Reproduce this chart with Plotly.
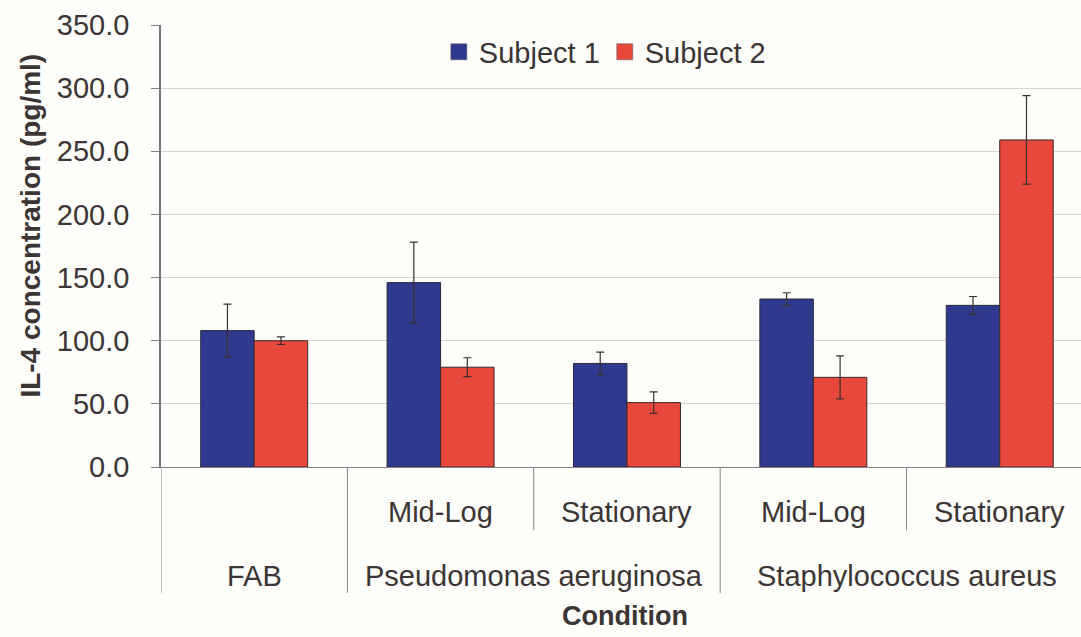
import plotly.graph_objects as go

# ---- data ----
groups = ["FAB", "Pseudomonas aeruginosa", "Pseudomonas aeruginosa",
          "Staphylococcus aureus", "Staphylococcus aureus"]
phases = ["", "Mid-Log", "Stationary", "Mid-Log", "Stationary"]
subject1 = [108.0, 146.0, 82.0, 133.0, 128.0]
subject1_err = [21.0, 32.0, 9.0, 5.0, 7.0]
subject2 = [100.0, 79.0, 51.0, 71.0, 259.0]
subject2_err = [3.0, 7.5, 8.5, 17.0, 35.0]
y_ticks = [0, 50, 100, 150, 200, 250, 300, 350]

BLUE = "#2f3a8e"
RED = "#e8473b"
TXT = "#3b3535"
FONT = "Liberation Sans, Arial, sans-serif"

x = list(range(len(phases)))

fig = go.Figure()
fig.add_trace(go.Bar(
    x=x, y=subject1, name="Subject 1", showlegend=False,
    marker=dict(color=BLUE, line=dict(color="#2a2a3a", width=1)),
    error_y=dict(type="data", array=subject1_err, color="#3a3030", thickness=1.2, width=4),
))
fig.add_trace(go.Bar(
    x=x, y=subject2, name="Subject 2", showlegend=False,
    marker=dict(color=RED, line=dict(color="#3a2a2a", width=1)),
    error_y=dict(type="data", array=subject2_err, color="#3a3030", thickness=1.2, width=4),
))
# legend entries with larger square symbols
for nm, col in [("Subject 1", BLUE), ("Subject 2", RED)]:
    fig.add_trace(go.Scatter(
        x=[None], y=[None], mode="markers", name=nm,
        marker=dict(symbol="square", size=18, color=col, line=dict(color="#555", width=0.5)),
    ))

# ---- category labels and dividers below the axis ----
Y_ROW1 = -0.102
Y_ROW2 = -0.246
Y_LONG = -0.285
Y_SHORT = -0.143
div_style = dict(color="#8a8088", width=1)

annotations = []
shapes = []
# sub labels
for i, p in enumerate(phases):
    if p:
        annotations.append(dict(x=i, y=Y_ROW1, xref="x", yref="paper", text=p,
                                showarrow=False, yanchor="middle",
                                font=dict(family=FONT, size=29, color=TXT)))
# group labels
seen = []
for g in groups:
    if g not in seen:
        seen.append(g)
for g in seen:
    idx = [i for i, gg in enumerate(groups) if gg == g]
    annotations.append(dict(x=sum(idx) / len(idx), y=Y_ROW2, xref="x", yref="paper", text=g,
                            showarrow=False, yanchor="middle",
                            font=dict(family=FONT, size=29, color=TXT)))
# dividers
shapes.append(dict(type="line", xref="x", yref="paper", x0=-0.5, x1=-0.5, y0=0, y1=Y_LONG, line=div_style))
for i in range(1, len(groups)):
    bx = i - 0.5
    ylow = Y_LONG if groups[i] != groups[i - 1] else Y_SHORT
    shapes.append(dict(type="line", xref="x", yref="paper", x0=bx, x1=bx, y0=0, y1=ylow, line=div_style))

# axis titles
annotations.append(dict(x=-0.142, y=0.547, xref="paper", yref="paper",
                        text="<b>IL-4 concentration (pg/ml)</b>", textangle=-90,
                        showarrow=False, xanchor="center", yanchor="middle",
                        font=dict(family=FONT, size=28, color=TXT)))
annotations.append(dict(x=0.504, y=-0.336, xref="paper", yref="paper",
                        text="<b>Condition</b>", showarrow=False,
                        xanchor="center", yanchor="middle",
                        font=dict(family=FONT, size=27, color=TXT)))

fig.update_layout(
    width=1081, height=637,
    margin=dict(l=161, r=0, t=25, b=170),
    paper_bgcolor="#fefefb",
    plot_bgcolor="#fefefb",
    barmode="group",
    bargap=0.426,
    bargroupgap=0,
    font=dict(family=FONT, size=29, color=TXT),
    showlegend=True,
    legend=dict(orientation="h", x=0.302, y=0.939, xanchor="left", yanchor="middle",
                bgcolor="rgba(0,0,0,0)", font=dict(family=FONT, size=29, color=TXT),
                itemsizing="trace", tracegroupgap=0),
    annotations=annotations,
    shapes=shapes,
)
fig.update_xaxes(
    range=[-0.5, 4.436], showticklabels=False, showgrid=False, zeroline=False,
    showline=True, linecolor="#8a8088", linewidth=1, ticks="",
)
fig.update_yaxes(
    range=[0, 350], tickvals=y_ticks, ticktext=[f"{v:.1f}" for v in y_ticks],
    showgrid=True, gridcolor="#d6d6d6", gridwidth=1,
    showline=True, linecolor="#7e7080", linewidth=1.5,
    ticks="outside", ticklen=8, tickcolor="#8a8088",
    ticklabelstandoff=16, zeroline=False,
    tickfont=dict(family=FONT, size=29, color=TXT),
)

fig.write_html(
    "out.html",
    config={"displayModeBar": False},
    post_script="document.body.style.margin='0';document.body.style.overflow='hidden';",
)
